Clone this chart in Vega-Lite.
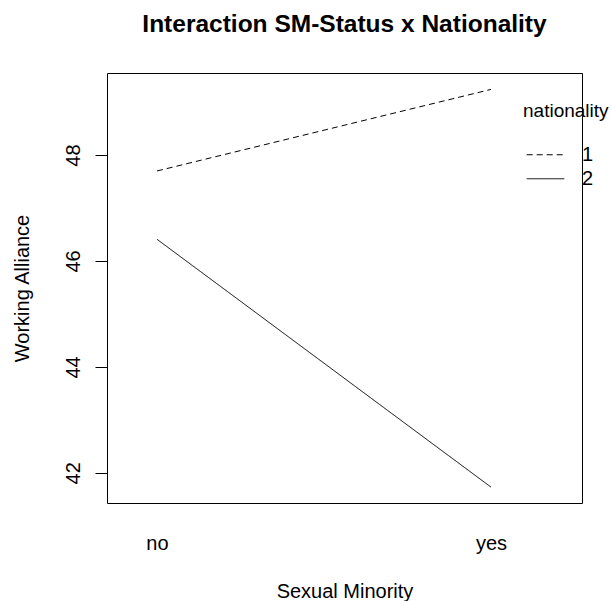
{
  "$schema": "https://vega.github.io/schema/vega-lite/v6.json",
  "autosize": {"type": "none"},
  "padding": {"left": 107, "top": 73, "right": 29, "bottom": 98},
  "width": 475,
  "height": 430,
  "background": "white",
  "title": {
    "text": "Interaction SM-Status x Nationality",
    "font": "Liberation Sans",
    "fontSize": 24.5,
    "fontWeight": "bold",
    "color": "black",
    "anchor": "middle",
    "frame": "group",
    "baseline": "alphabetic",
    "offset": 17
  },
  "data": {
    "values": [
      {"sm": "no", "nationality": "1", "alliance": 47.70},
      {"sm": "yes", "nationality": "1", "alliance": 49.24},
      {"sm": "no", "nationality": "2", "alliance": 46.41},
      {"sm": "yes", "nationality": "2", "alliance": 41.73}
    ]
  },
  "transform": [
    {"calculate": "indexof(['no','yes'], datum.sm) + 1", "as": "smIndex"}
  ],
  "mark": {"type": "line", "color": "black", "strokeWidth": 1},
  "encoding": {
    "x": {
      "field": "smIndex",
      "type": "quantitative",
      "scale": {"domain": [0.8503, 2.2725], "nice": false, "zero": false},
      "axis": {
        "title": "Sexual Minority",
        "values": [1, 2],
        "labelExpr": "datum.value == 1 ? 'no' : 'yes'",
        "grid": false,
        "domain": false,
        "ticks": false,
        "tickSize": 0,
        "labelPadding": 46,
        "labelBaseline": "alphabetic",
        "labelFont": "Liberation Sans",
        "labelFontSize": 20,
        "labelColor": "black",
        "titleFont": "Liberation Sans",
        "titleFontSize": 20,
        "titleFontWeight": "normal",
        "titleColor": "black",
        "titleBaseline": "alphabetic",
        "titleX": 237.5,
        "titleY": 94,
        "titleAnchor": "middle"
      }
    },
    "y": {
      "field": "alliance",
      "type": "quantitative",
      "scale": {"domain": [41.43, 49.55], "nice": false, "zero": false},
      "axis": {
        "title": "Working Alliance",
        "values": [42, 44, 46, 48],
        "grid": false,
        "domain": false,
        "ticks": true,
        "tickSize": 12,
        "tickColor": "black",
        "tickWidth": 1,
        "labelAngle": 270,
        "labelAlign": "center",
        "labelBaseline": "alphabetic",
        "labelPadding": 16,
        "labelFont": "Liberation Sans",
        "labelFontSize": 20,
        "labelColor": "black",
        "titleFont": "Liberation Sans",
        "titleFontSize": 20,
        "titleFontWeight": "normal",
        "titleColor": "black",
        "titleAngle": 270,
        "titleAlign": "center",
        "titleBaseline": "alphabetic",
        "titleX": -79,
        "titleY": 215
      }
    },
    "strokeDash": {
      "field": "nationality",
      "type": "nominal",
      "scale": {"domain": ["1", "2"], "range": [[6, 4], [1, 0]]},
      "legend": {
        "title": "nationality",
        "orient": "none",
        "legendX": 416,
        "legendY": 29,
        "padding": 0,
        "titleFont": "Liberation Sans",
        "titleFontSize": 19,
        "titleFontWeight": "normal",
        "titleColor": "black",
        "titlePadding": 22,
        "symbolType": "stroke",
        "symbolSize": 1414,
        "symbolStrokeColor": "black",
        "symbolStrokeWidth": 1,
        "symbolOffset": 3,
        "clipHeight": 23.5,
        "rowPadding": 0,
        "labelOffset": 17,
        "labelFont": "Liberation Sans",
        "labelFontSize": 20,
        "labelColor": "black"
      }
    }
  },
  "config": {
    "view": {"stroke": "black", "strokeWidth": 1},
    "font": "Liberation Sans"
  }
}
